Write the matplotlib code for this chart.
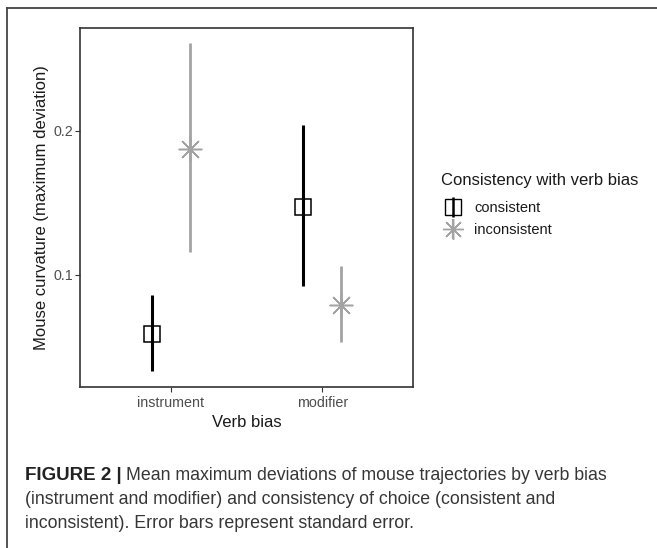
import matplotlib
matplotlib.use("Agg")
import matplotlib.pyplot as plt
from matplotlib.lines import Line2D

# data
verb_bias = ["instrument", "modifier"]
consistent_mean = [0.059, 0.147]
consistent_lo = [0.033, 0.092]
consistent_hi = [0.086, 0.204]
inconsistent_mean = [0.1875, 0.079]
inconsistent_lo = [0.116, 0.0535]
inconsistent_hi = [0.261, 0.106]

yticks = [0.1, 0.2]
legend_title = "Consistency with verb bias"
legend_labels = ["consistent", "inconsistent"]
caption_bold = "FIGURE 2 |"
caption_lines = [
    "Mean maximum deviations of mouse trajectories by verb bias",
    "(instrument and modifier) and consistency of choice (consistent and",
    "inconsistent). Error bars represent standard error.",
]

W, H = 657, 548
fig = plt.figure(figsize=(W / 100, H / 100), dpi=100)
plt.rcParams["font.family"] = ["Liberation Sans", "DejaVu Sans"]

# outer frame (only top and left edges are visible)
fig.add_artist(Line2D([7 / W, 1], [1 - 8 / H, 1 - 8 / H], color="#444444", lw=1.3))
fig.add_artist(Line2D([7 / W, 7 / W], [0, 1 - 8 / H], color="#444444", lw=1.3))

ax = fig.add_axes([80 / W, 1 - 387 / H, (413 - 80) / W, (387 - 28) / H])

gray = "#a3a3a3"
dodge = 0.125
x = [i + 1 for i in range(len(verb_bias))]

xc = [v - dodge for v in x]
ax.errorbar(xc, consistent_mean,
            yerr=[[m - l for m, l in zip(consistent_mean, consistent_lo)],
                  [h - m for m, h in zip(consistent_mean, consistent_hi)]],
            fmt="none", ecolor="black", elinewidth=2.2, capsize=0, zorder=2)
ax.plot(xc, consistent_mean, ls="none", marker="s", ms=11.5, mfc="none",
        mec="black", mew=1.1, zorder=3)

xi = [v + dodge for v in x]
ax.errorbar(xi, inconsistent_mean,
            yerr=[[m - l for m, l in zip(inconsistent_mean, inconsistent_lo)],
                  [h - m for m, h in zip(inconsistent_mean, inconsistent_hi)]],
            fmt="none", ecolor=gray, elinewidth=2.0, capsize=0, zorder=2)
ax.plot(xi, inconsistent_mean, ls="none", marker=(8, 2, 0), ms=17,
        mec=gray, mew=1.1, zorder=3)

ax.set_xlim(0.4, 2.6)
ax.set_ylim(0.0222, 0.2715)
ax.set_xticks(x)
ax.set_xticklabels(verb_bias)
ax.set_yticks(yticks)
ax.set_yticklabels([f"{t:.1f}" for t in yticks])
ax.tick_params(length=3.5, width=0.8, color="#333333", labelsize=10.3,
               labelcolor="#4d4d4d", pad=1.5)
ax.tick_params(axis="x", pad=2.8)
for s in ax.spines.values():
    s.set_color("#333333")
    s.set_linewidth(1.2)

ax.set_xlabel("Verb bias", fontsize=12, labelpad=4, color="#1a1a1a")
ax.set_ylabel("Mouse curvature (maximum deviation)", fontsize=12, labelpad=3,
              color="#1a1a1a")

# legend: title as its own text so the gap to the keys can be set
fig.text(441 / W, 1 - 181 / H, legend_title, fontsize=12, va="center",
         ha="left", color="#1a1a1a")
h_cons = (Line2D([], [], ls="none", marker="|", ms=14, mew=1.8, color="black"),
          Line2D([], [], ls="none", marker="s", ms=11, mfc="none", mec="black", mew=1.0))
h_inc = (Line2D([], [], ls="none", marker="|", ms=14, mew=1.6, color=gray),
         Line2D([], [], ls="none", marker=(8, 2, 0), ms=15, mec=gray, mew=1.0))
leg = fig.legend([h_cons, h_inc], legend_labels, loc="center left",
                 bbox_to_anchor=(442 / W, 1 - 219 / H), frameon=False,
                 fontsize=10.5, handlelength=1.45, handletextpad=0.75,
                 labelspacing=0.52, borderaxespad=0, borderpad=0)
for txt in leg.get_texts():
    txt.set_color("#1a1a1a")

# caption
cap_font = ["Liberation Sans", "DejaVu Sans"]
y0 = 1 - 475 / H
t = fig.text(25 / W, y0, caption_bold, fontsize=13.5, fontweight="bold",
             va="center", ha="left", family=cap_font, color="#222222")
fig.canvas.draw()
bb = t.get_window_extent(fig.canvas.get_renderer())
fig.text(bb.x1 / W + 4 / W, y0, caption_lines[0], fontsize=12.8,
         va="center", ha="left", family=cap_font, color="#363636")
for i, line in enumerate(caption_lines[1:]):
    fig.text(25 / W, y0 - (i + 1) * 24.5 / H, line, fontsize=12.8,
             va="center", ha="left", family=cap_font, color="#363636")

fig.savefig("out.png", dpi=100)
